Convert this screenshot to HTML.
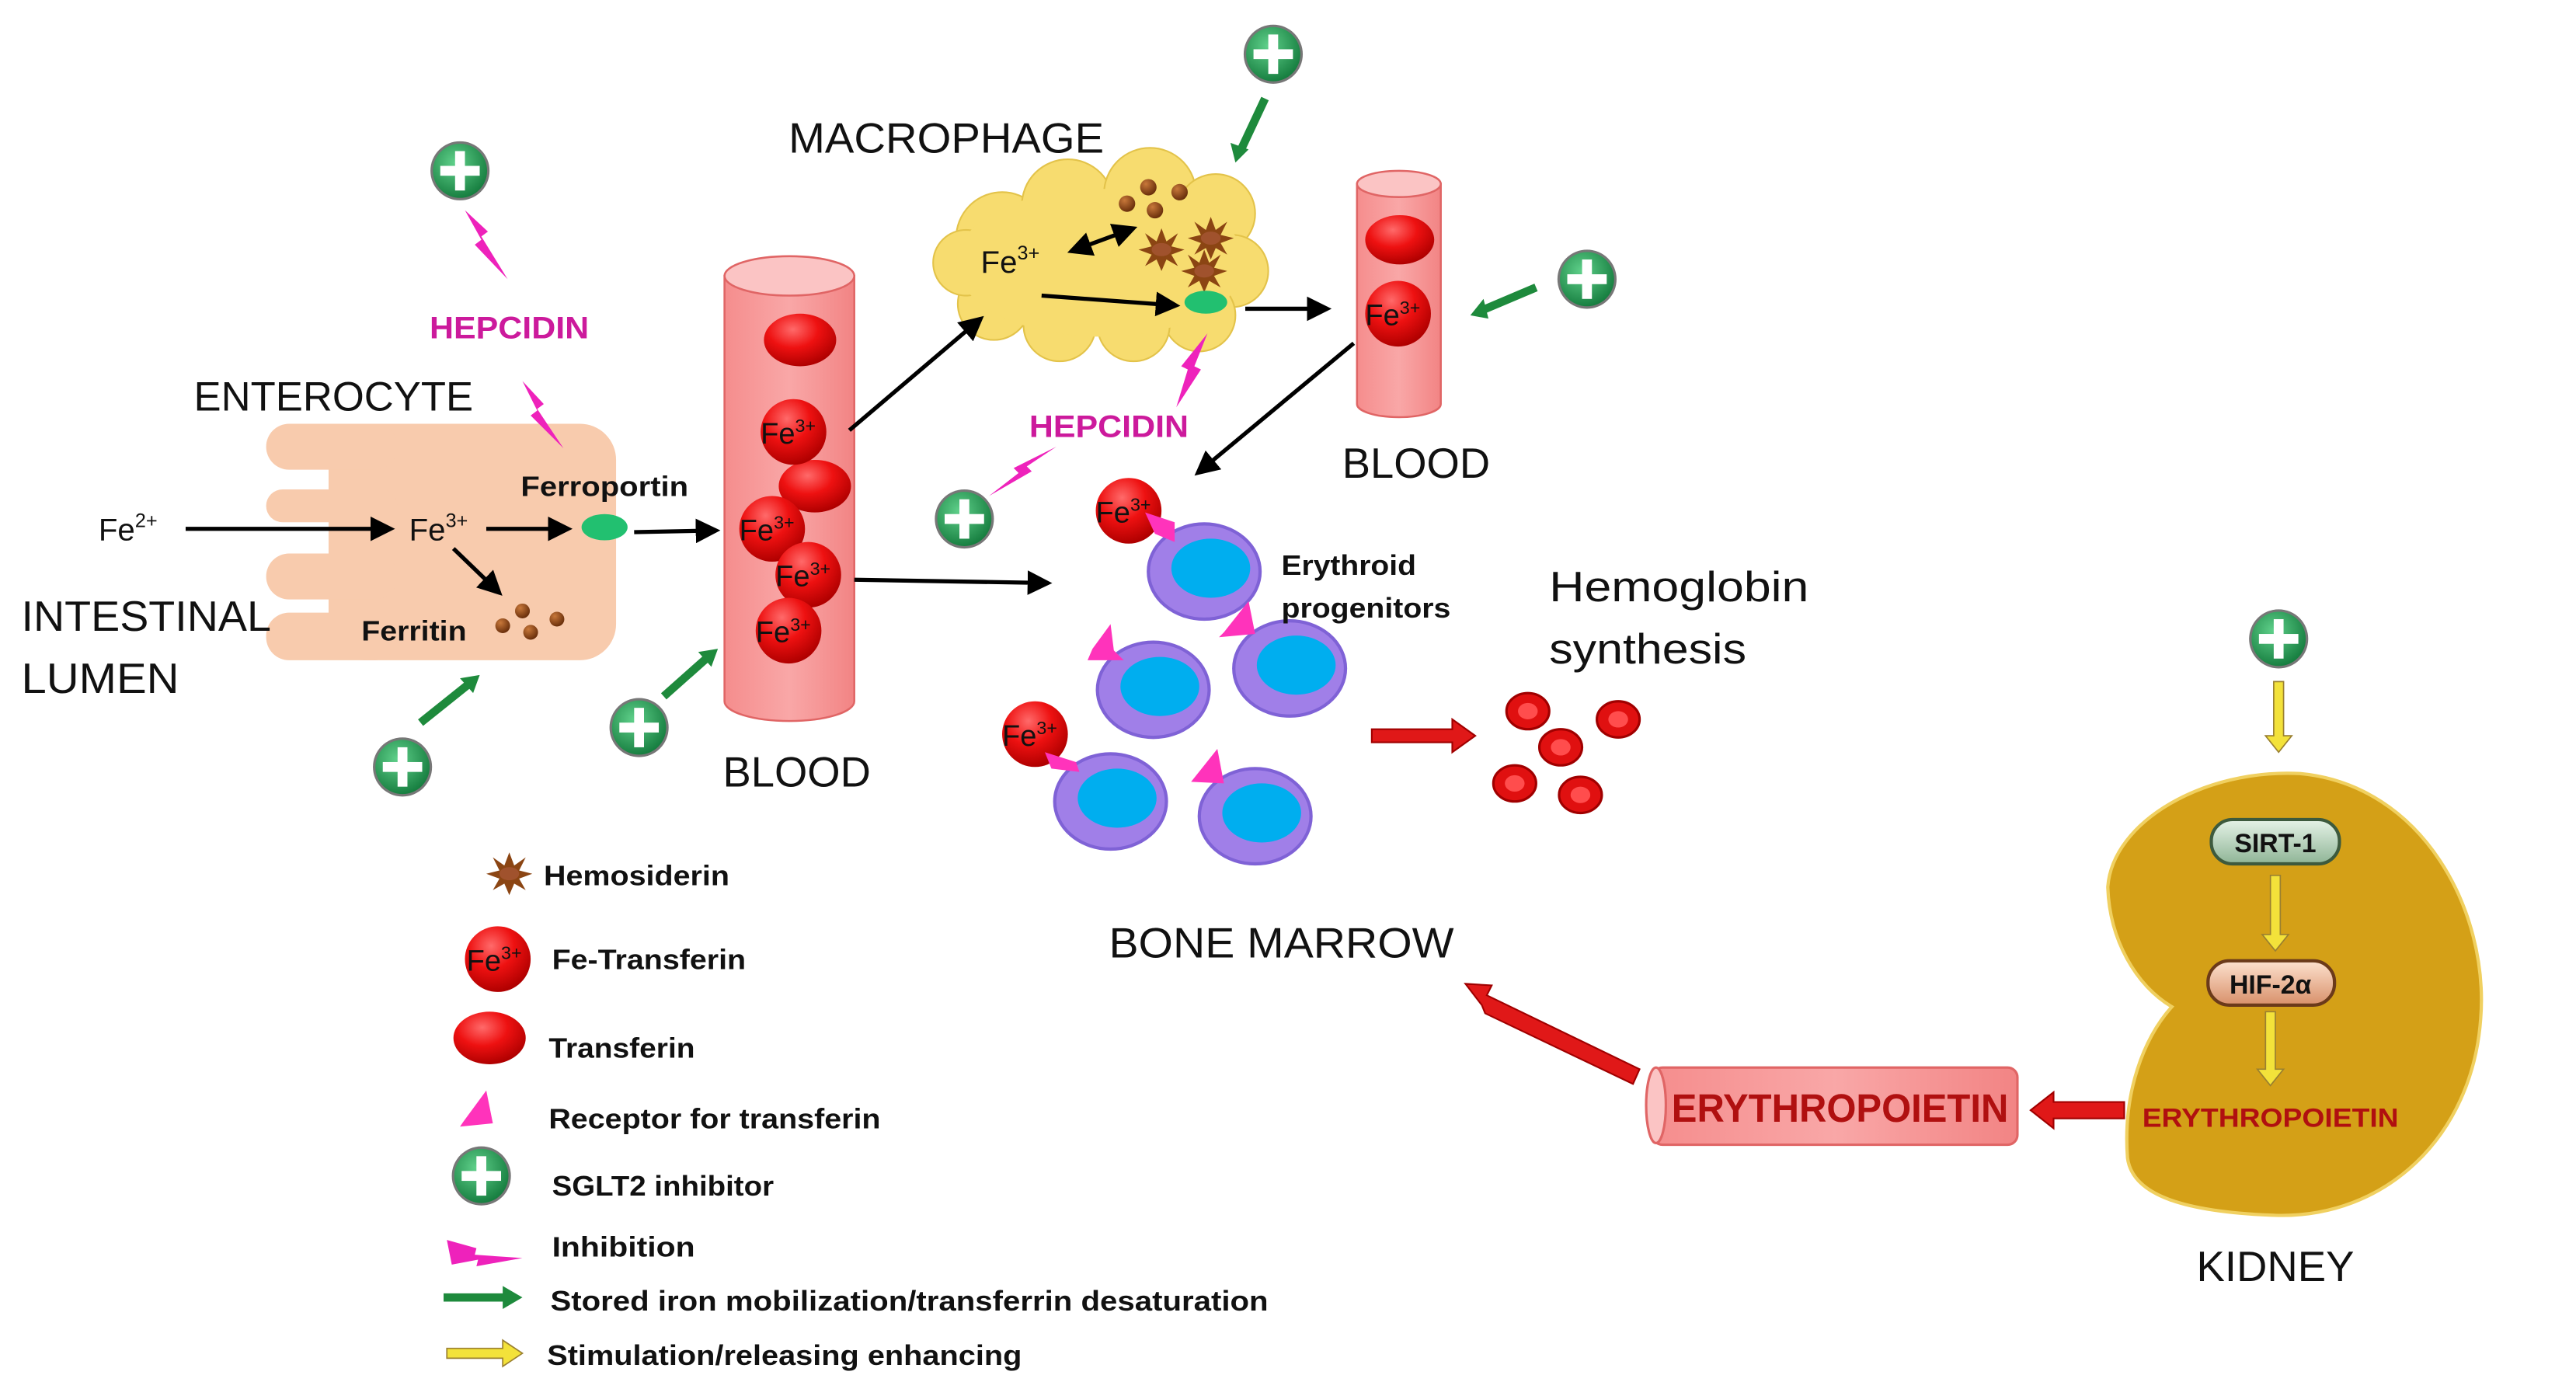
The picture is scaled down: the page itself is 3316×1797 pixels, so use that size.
<!DOCTYPE html>
<html><head><meta charset="utf-8"><style>
html,body{margin:0;padding:0;background:#fff;}
svg{display:block;}
text{font-family:"Liberation Sans",sans-serif;}
</style></head><body>
<svg width="3316" height="1797" viewBox="0 0 1568 850" preserveAspectRatio="none" xmlns="http://www.w3.org/2000/svg">
<defs>
<radialGradient id="red" cx="40%" cy="30%" r="70%"><stop offset="0" stop-color="#ff6a6a"/><stop offset="0.5" stop-color="#ee1111"/><stop offset="1" stop-color="#b00000"/></radialGradient>
<radialGradient id="grn" cx="40%" cy="35%" r="70%"><stop offset="0" stop-color="#5fd08a"/><stop offset="1" stop-color="#137a3c"/></radialGradient>
<radialGradient id="brn" cx="35%" cy="30%" r="70%"><stop offset="0" stop-color="#c8783a"/><stop offset="1" stop-color="#6b300c"/></radialGradient>
<linearGradient id="tube" x1="0" x2="1"><stop offset="0" stop-color="#f58d8d"/><stop offset="0.5" stop-color="#f9a7a7"/><stop offset="1" stop-color="#f28484"/></linearGradient>
<linearGradient id="sirt" x1="0" y1="0" x2="0" y2="1"><stop offset="0" stop-color="#e6f3e8"/><stop offset="1" stop-color="#8fb596"/></linearGradient>
<linearGradient id="hif" x1="0" y1="0" x2="0" y2="1"><stop offset="0" stop-color="#fde2cf"/><stop offset="1" stop-color="#d8906a"/></linearGradient>
<marker id="ah" markerWidth="6" markerHeight="6" refX="5" refY="3" orient="auto"><path d="M0,0 L6,3 L0,6 Z" fill="#000"/></marker>
<marker id="ahs" markerWidth="6" markerHeight="6" refX="1" refY="3" orient="auto"><path d="M6,0 L0,3 L6,6 Z" fill="#000"/></marker>
<g id="plus"><circle r="18" fill="#777"/><circle r="16.5" fill="url(#grn)"/><rect x="-12" y="-3" width="24" height="6" fill="#fff"/><rect x="-3" y="-12" width="6" height="24" fill="#fff"/></g>
<g id="ball"><circle r="20" fill="url(#red)"/></g>
<g id="star"><polygon points="0,-13 3,-5 10,-10 6,-2 14,0 6,3 10,10 3,6 0,13 -3,6 -10,10 -6,3 -14,0 -6,-2 -10,-10 -3,-5" fill="#8b4513"/><ellipse rx="6" ry="4" fill="#a0522d"/></g>
</defs>

<!-- Enterocyte -->
<g fill="#f8cbad">
<rect x="200" y="258" width="175" height="144" rx="22"/>
<rect x="162" y="258" width="80" height="28" rx="14"/>
<rect x="162" y="298" width="80" height="20" rx="10"/>
<rect x="162" y="337" width="80" height="28" rx="14"/>
<rect x="162" y="373" width="80" height="29" rx="14"/>
</g>
<circle cx="306" cy="381" r="4.5" fill="url(#brn)"/><circle cx="318" cy="372" r="4.5" fill="url(#brn)"/><circle cx="339" cy="377" r="4.5" fill="url(#brn)"/><circle cx="323" cy="385" r="4.5" fill="url(#brn)"/>
<ellipse cx="368" cy="321" rx="14" ry="8" fill="#22c070"/>

<!-- Blood tube 1 -->
<path d="M441,168 L441,427 A39.5,12 0 0 0 520,427 L520,168 Z" fill="url(#tube)" stroke="#e06565" stroke-width="1.2"/>
<ellipse cx="480.5" cy="168" rx="39.5" ry="12" fill="#fbc4c4" stroke="#e06565" stroke-width="1.2"/>
<!-- Blood tube 2 -->
<path d="M826,112 L826,246 A25.5,8 0 0 0 877,246 L877,112 Z" fill="url(#tube)" stroke="#e06565" stroke-width="1.2"/>
<ellipse cx="851.5" cy="112" rx="25.5" ry="8" fill="#fbc4c4" stroke="#e06565" stroke-width="1.2"/>

<!-- Macrophage cloud -->
<g fill="#f7dc6f" stroke="#e3c34a" stroke-width="1">
<circle cx="610" cy="145" r="28"/><circle cx="650" cy="125" r="28"/><circle cx="700" cy="118" r="28"/><circle cx="740" cy="130" r="24"/>
<circle cx="750" cy="165" r="22"/><circle cx="730" cy="192" r="22"/><circle cx="690" cy="198" r="22"/><circle cx="645" cy="198" r="22"/>
<circle cx="605" cy="185" r="22"/><circle cx="588" cy="160" r="20"/>
</g>
<ellipse cx="670" cy="160" rx="88" ry="45" fill="#f7dc6f"/>
<circle cx="686" cy="124" r="5" fill="url(#brn)"/><circle cx="699" cy="114" r="5" fill="url(#brn)"/><circle cx="718" cy="117" r="5" fill="url(#brn)"/><circle cx="703" cy="128" r="5" fill="url(#brn)"/>
<use href="#star" x="707" y="152"/><use href="#star" x="737" y="145"/><use href="#star" x="733" y="165"/>
<ellipse cx="734" cy="184" rx="13" ry="7" fill="#22c070"/>

<!-- Black arrows -->
<g stroke="#000" stroke-width="2.5" fill="none" marker-end="url(#ah)">
<line x1="113" y1="322" x2="238" y2="322"/>
<line x1="296" y1="322" x2="346" y2="322"/>
<line x1="276" y1="334" x2="304" y2="361"/>
<line x1="386" y1="324" x2="436" y2="323"/>
<line x1="517" y1="262" x2="597" y2="194"/>
<line x1="520" y1="353" x2="638" y2="355"/>
<line x1="634" y1="180" x2="716" y2="186"/>
<line x1="652" y1="153" x2="690" y2="139" marker-start="url(#ahs)"/>
<line x1="758" y1="188" x2="808" y2="188"/>
<line x1="824" y1="209" x2="729" y2="288"/>
</g>

<!-- Balls in tubes -->
<ellipse cx="487" cy="207" rx="22" ry="16" fill="url(#red)"/>
<ellipse cx="496" cy="296" rx="22" ry="16" fill="url(#red)"/>
<ellipse cx="852" cy="146" rx="21" ry="15" fill="url(#red)"/>
<g font-size="18" fill="#111">
<use href="#ball" x="483" y="263"/><text x="463" y="270">Fe<tspan font-size="11" dy="-7">3+</tspan></text>
<use href="#ball" x="470" y="322"/><text x="450" y="329">Fe<tspan font-size="11" dy="-7">3+</tspan></text>
<use href="#ball" x="492" y="350"/><text x="472" y="357">Fe<tspan font-size="11" dy="-7">3+</tspan></text>
<use href="#ball" x="480" y="384"/><text x="460" y="391">Fe<tspan font-size="11" dy="-7">3+</tspan></text>
<use href="#ball" x="851" y="191"/><text x="831" y="198">Fe<tspan font-size="11" dy="-7">3+</tspan></text>
<use href="#ball" x="687" y="311"/><text x="667" y="318">Fe<tspan font-size="11" dy="-7">3+</tspan></text>
<use href="#ball" x="630" y="447"/><text x="610" y="454">Fe<tspan font-size="11" dy="-7">3+</tspan></text>
<use href="#ball" x="303" y="584"/><text x="284" y="591">Fe<tspan font-size="11" dy="-7">3+</tspan></text>
</g>
<ellipse cx="298" cy="632" rx="22" ry="16" fill="url(#red)"/>

<!-- Cells -->
<g stroke="#7f62d6" stroke-width="2">
<ellipse cx="733" cy="348" rx="34" ry="29" fill="#a07fe8"/><ellipse cx="737" cy="346" rx="24" ry="18" fill="#00aeef" stroke="none"/>
<ellipse cx="702" cy="420" rx="34" ry="29" fill="#a07fe8"/><ellipse cx="706" cy="418" rx="24" ry="18" fill="#00aeef" stroke="none"/>
<ellipse cx="785" cy="407" rx="34" ry="29" fill="#a07fe8"/><ellipse cx="789" cy="405" rx="24" ry="18" fill="#00aeef" stroke="none"/>
<ellipse cx="676" cy="488" rx="34" ry="29" fill="#a07fe8"/><ellipse cx="680" cy="486" rx="24" ry="18" fill="#00aeef" stroke="none"/>
<ellipse cx="764" cy="497" rx="34" ry="29" fill="#a07fe8"/><ellipse cx="768" cy="495" rx="24" ry="18" fill="#00aeef" stroke="none"/>
</g>
<g fill="#ff33bb">
<path d="M697,312 L715,318 L715,330 L703,325 Z"/>
<path d="M665,395 L676,380 L678,396 L684,402 L662,402 Z"/>
<path d="M745,385 L760,366 L764,386 L742,388 Z"/>
<path d="M636,458 L655,464 L657,470 L640,468 Z"/>
<path d="M725,476 L741,456 L745,477 Z"/>
<path d="M282,683 L296,664 L300,684 L280,686 Z"/>
</g>

<!-- RBCs -->
<g fill="#e01010" stroke="#a00000" stroke-width="1.5">
<ellipse cx="930" cy="433" rx="13" ry="11"/><ellipse cx="985" cy="438" rx="13" ry="11"/><ellipse cx="950" cy="455" rx="13" ry="11"/><ellipse cx="922" cy="477" rx="13" ry="11"/><ellipse cx="962" cy="484" rx="13" ry="11"/>
</g>
<g fill="#ff4d4d" stroke="none">
<ellipse cx="930" cy="433" rx="6" ry="5"/><ellipse cx="985" cy="438" rx="6" ry="5"/><ellipse cx="950" cy="455" rx="6" ry="5"/><ellipse cx="922" cy="477" rx="6" ry="5"/><ellipse cx="962" cy="484" rx="6" ry="5"/>
</g>

<!-- Green arrows -->
<g stroke="#1e8a3c" stroke-width="5" fill="#1e8a3c">
<line x1="256" y1="440" x2="286" y2="416"/><polygon points="292,411 280,413 288,422" stroke="none"/>
<line x1="404" y1="424" x2="431" y2="400"/><polygon points="437,395 425,397 433,406" stroke="none"/>
<line x1="770" y1="60" x2="755" y2="92"/><polygon points="752,99 749,87 760,91" stroke="none"/>
<line x1="935" y1="175" x2="902" y2="189"/><polygon points="895,192 903,182 906,194" stroke="none"/>
<line x1="270" y1="790" x2="308" y2="790"/><polygon points="318,790 306,783 306,797" stroke="none"/>
</g>

<!-- Pink lightning -->
<g fill="#ee22bb">
<polygon points="283,128 297,141 293,144 309,170 289,149 293,146"/>
<polygon points="318,232 331,246 327,249 343,273 323,253 327,250"/>
<polygon points="735,203 727,223 731,225 716,248 723,225 719,223"/>
<polygon points="643,272 625,284 628,287 602,302 620,288 617,285"/>
<polygon points="272,755 290,760 289,764 318,766 290,771 291,767 275,770"/>
</g>

<!-- Plus icons -->
<use href="#plus" x="280" y="104"/><use href="#plus" x="775" y="33"/><use href="#plus" x="966" y="170"/>
<use href="#plus" x="587" y="316"/><use href="#plus" x="389" y="443"/><use href="#plus" x="245" y="467"/>
<use href="#plus" x="1387" y="389"/><use href="#plus" x="293" y="716"/>

<!-- Kidney -->
<path d="M1400,471 C1475,478 1515,555 1510,620 C1505,692 1452,742 1385,740 C1330,738 1298,728 1295,705 C1292,665 1305,632 1322,613 C1300,600 1284,572 1283,540 C1286,500 1342,468 1400,471 Z" fill="#d4a017" stroke="#f0d060" stroke-width="2"/>
<rect x="1346" y="499" width="78" height="27" rx="13" fill="url(#sirt)" stroke="#3d5a3d" stroke-width="2"/>
<text x="1385" y="519" font-size="16" font-weight="bold" text-anchor="middle" fill="#111">SIRT-1</text>
<rect x="1344" y="585" width="77" height="27" rx="13" fill="url(#hif)" stroke="#6b3a1a" stroke-width="2"/>
<text x="1382" y="605" font-size="16" font-weight="bold" text-anchor="middle" fill="#111">HIF-2α</text>
<g fill="#f3e23a" stroke="#9a8030" stroke-width="0.8">
<path d="M1384,415 L1390,415 L1390,448 L1395,448 L1387,458 L1379,448 L1384,448 Z"/>
<path d="M1382,533 L1388,533 L1388,569 L1393,569 L1385,579 L1377,569 L1382,569 Z"/>
<path d="M1379,616 L1385,616 L1385,651 L1390,651 L1382,661 L1374,651 L1379,651 Z"/>
<path d="M272,821 L306,821 L306,816 L318,824 L306,832 L306,827 L272,827 Z"/>
</g>
<text x="1382" y="686" font-size="16" font-weight="bold" text-anchor="middle" fill="#b01010" textLength="156" lengthAdjust="spacingAndGlyphs">ERYTHROPOIETIN</text>

<!-- EPO tube -->
<rect x="1006" y="650" width="222" height="47" rx="6" fill="url(#tube)" stroke="#e06565" stroke-width="1.5"/>
<ellipse cx="1008" cy="673" rx="6" ry="23" fill="#fbc4c4" stroke="#e06565" stroke-width="1.5"/>
<text x="1120" y="683" font-size="24" font-weight="bold" text-anchor="middle" fill="#b01010" textLength="205" lengthAdjust="spacingAndGlyphs">ERYTHROPOIETIN</text>

<!-- Red thick arrows -->
<g fill="#e01818" stroke="#a00000" stroke-width="1">
<polygon points="835,444 884,444 884,438 898,448 884,458 884,452 835,452"/>
<polygon points="1293,671 1250,671 1250,665 1236,676 1250,687 1250,681 1293,681"/>
<polygon points="998,651 905,606 908,600 892,599 902,612 904,617 994,660"/>
</g>

<!-- Labels -->
<g fill="#111">
<text x="576" y="93" font-size="26" text-anchor="middle" textLength="192" lengthAdjust="spacingAndGlyphs">MACROPHAGE</text>
<text x="203" y="250" font-size="25" text-anchor="middle" textLength="170" lengthAdjust="spacingAndGlyphs">ENTEROCYTE</text>
<text x="13" y="384" font-size="26" textLength="152" lengthAdjust="spacingAndGlyphs">INTESTINAL</text>
<text x="13" y="422" font-size="26" textLength="96" lengthAdjust="spacingAndGlyphs">LUMEN</text>
<text x="485" y="479" font-size="26" text-anchor="middle" textLength="90" lengthAdjust="spacingAndGlyphs">BLOOD</text>
<text x="862" y="291" font-size="26" text-anchor="middle" textLength="90" lengthAdjust="spacingAndGlyphs">BLOOD</text>
<text x="780" y="583" font-size="26" text-anchor="middle" textLength="210" lengthAdjust="spacingAndGlyphs">BONE MARROW</text>
<text x="1385" y="780" font-size="26" text-anchor="middle" textLength="96" lengthAdjust="spacingAndGlyphs">KIDNEY</text>
<text x="943" y="366" font-size="26" textLength="158" lengthAdjust="spacingAndGlyphs">Hemoglobin</text>
<text x="943" y="404" font-size="26" textLength="120" lengthAdjust="spacingAndGlyphs">synthesis</text>
<text x="60" y="329" font-size="19">Fe<tspan font-size="12" dy="-8">2+</tspan></text>
<text x="249" y="329" font-size="19">Fe<tspan font-size="12" dy="-8">3+</tspan></text>
<text x="597" y="166" font-size="19">Fe<tspan font-size="12" dy="-8">3+</tspan></text>
<g font-weight="bold" font-size="17">
<text x="368" y="302" text-anchor="middle" textLength="102" lengthAdjust="spacingAndGlyphs">Ferroportin</text>
<text x="252" y="390" text-anchor="middle" textLength="64" lengthAdjust="spacingAndGlyphs">Ferritin</text>
<text x="780" y="350" textLength="82" lengthAdjust="spacingAndGlyphs">Erythroid</text>
<text x="780" y="376" textLength="103" lengthAdjust="spacingAndGlyphs">progenitors</text>
<text x="331" y="539" textLength="113" lengthAdjust="spacingAndGlyphs">Hemosiderin</text>
<text x="336" y="590" textLength="118" lengthAdjust="spacingAndGlyphs">Fe-Transferin</text>
<text x="334" y="644" textLength="89" lengthAdjust="spacingAndGlyphs">Transferin</text>
<text x="334" y="687" textLength="202" lengthAdjust="spacingAndGlyphs">Receptor for transferin</text>
<text x="336" y="728" textLength="135" lengthAdjust="spacingAndGlyphs">SGLT2 inhibitor</text>
<text x="336" y="765" textLength="87" lengthAdjust="spacingAndGlyphs">Inhibition</text>
<text x="335" y="798" textLength="437" lengthAdjust="spacingAndGlyphs">Stored iron mobilization/transferrin desaturation</text>
<text x="333" y="831" textLength="289" lengthAdjust="spacingAndGlyphs">Stimulation/releasing enhancing</text>
</g>
</g>
<use href="#star" x="310" y="532"/>
<g font-weight="bold" font-size="19" fill="#cc1a9c">
<text x="310" y="206" text-anchor="middle" textLength="97" lengthAdjust="spacingAndGlyphs">HEPCIDIN</text>
<text x="675" y="266" text-anchor="middle" textLength="97" lengthAdjust="spacingAndGlyphs">HEPCIDIN</text>
</g>
</svg>
</body></html>
